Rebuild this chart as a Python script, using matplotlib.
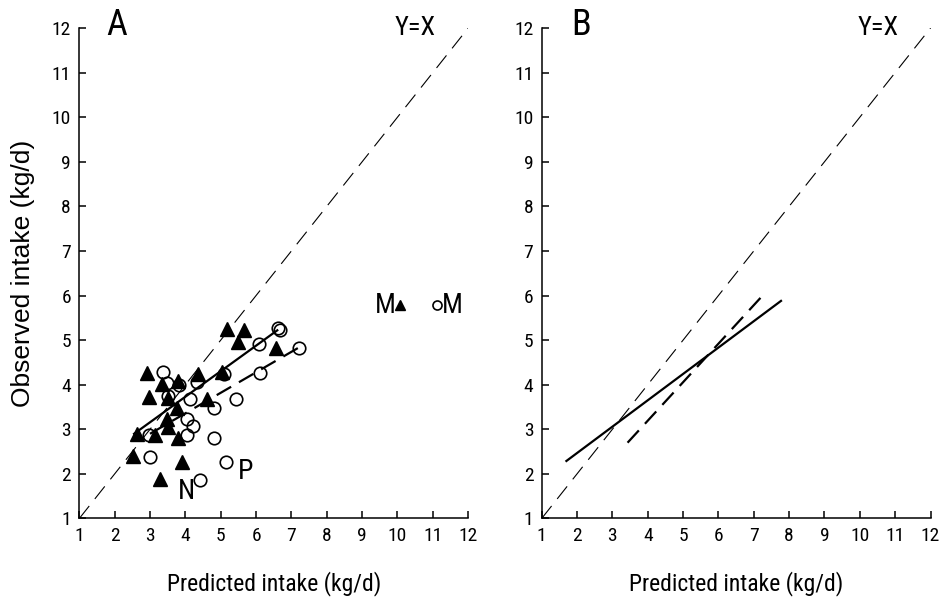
import matplotlib
matplotlib.use('Agg')
import matplotlib.pyplot as plt
from matplotlib import font_manager
import numpy as np


def pick_font(names):
    for n in names:
        try:
            font_manager.findfont(n, fallback_to_default=False)
            return n
        except ValueError:
            pass
    return None


narrow = pick_font(['Liberation Sans Narrow', 'Arial Narrow', 'Roboto Condensed'])
if narrow:
    plt.rcParams['font.family'] = [narrow, 'Liberation Sans', 'DejaVu Sans']
    tick_fs, xlab_fs, key_fs, yx_fs, pan_fs = 14, 17, 20, 19, 26
else:
    plt.rcParams['font.family'] = ['Liberation Sans', 'DejaVu Sans']
    tick_fs, xlab_fs, key_fs, yx_fs, pan_fs = 13, 16, 18, 15, 25
plt.rcParams['lines.scale_dashes'] = False

# panel A data
tri_x = [5.18, 5.65, 5.50, 6.57, 2.91, 3.33, 2.96, 3.80, 4.37, 5.03, 3.52,
         3.76, 4.61, 3.48, 3.52, 2.63, 3.14, 3.78, 2.53, 3.90, 3.29]
tri_y = [5.25, 5.22, 4.96, 4.83, 4.26, 4.01, 3.72, 4.08, 4.25, 4.28, 3.71,
         3.47, 3.69, 3.24, 3.05, 2.89, 2.87, 2.81, 2.40, 2.27, 1.88]
circ_x = [6.62, 6.68, 6.07, 7.22, 6.12, 5.08, 3.38, 3.48, 3.83, 4.33, 3.50,
          4.14, 4.80, 5.44, 4.04, 4.23, 4.04, 2.98, 4.80, 3.00, 5.16, 4.42]
circ_y = [5.27, 5.23, 4.92, 4.83, 4.26, 4.23, 4.28, 4.04, 3.99, 4.06, 3.75,
          3.67, 3.47, 3.69, 3.24, 3.07, 2.87, 2.87, 2.81, 2.37, 2.26, 1.86]

# fitted lines, panel A
a_solid_x = [2.55, 6.60]
a_solid_y = [2.90, 5.22]
a_dash_x = [3.00, 7.20]
a_dash_y = [2.90, 4.83]

# fitted lines, panel B
b_solid_x = [1.70, 7.77]
b_solid_y = [2.29, 5.88]
b_dash_x = [3.43, 7.25]
b_dash_y = [2.70, 6.00]

ticks = list(range(1, 13))

fig = plt.figure(figsize=(9.43, 6.06), dpi=100)
axA = fig.add_axes([0.0841, 0.1444, 0.4124, 0.8094])
axB = fig.add_axes([0.5744, 0.1444, 0.4124, 0.8094])


def style(ax):
    ax.set_xlim(1, 12)
    ax.set_ylim(1, 12)
    ax.set_xticks(ticks)
    ax.set_yticks(ticks)
    for s in ['top', 'right']:
        ax.spines[s].set_visible(False)
    for s in ['left', 'bottom']:
        ax.spines[s].set_linewidth(1.1)
    ax.tick_params(direction='in', length=5, width=1.1, labelsize=tick_fs, pad=6)
    ax.set_xlabel('Predicted intake (kg/d)', fontsize=xlab_fs, labelpad=19)
    # y=x reference
    ax.plot([1, 12], [1, 12], color='k', lw=0.8, dashes=(11.5, 6.5))
    ax.text(10.51, 12.0, 'Y=X', fontsize=yx_fs, ha='center', va='center')


style(axA)
style(axB)

axA.set_ylabel('Observed intake (kg/d)', fontsize=19, labelpad=12,
               family=['Liberation Sans', 'DejaVu Sans'])

axA.plot(a_solid_x, a_solid_y, color='k', lw=1.6)
axA.plot(a_dash_x, a_dash_y, color='k', lw=1.6, dashes=(12, 6.5))
axA.plot(tri_x, tri_y, ls='none', marker='^', ms=9.5, color='k')
axA.plot(circ_x, circ_y, ls='none', marker='o', ms=9, mfc='none', mec='k', mew=1.2)

# in-plot key and labels
axA.text(9.95, 5.78, 'M', fontsize=key_fs, ha='right', va='center')
axA.plot([10.08], [5.78], ls='none', marker='^', ms=7.5, color='k')
axA.plot([11.13], [5.78], ls='none', marker='o', ms=6.5, mfc='none', mec='k', mew=1.2)
axA.text(11.25, 5.78, 'M', fontsize=key_fs, ha='left', va='center')
axA.text(5.69, 2.05, 'P', fontsize=key_fs, ha='center', va='center')
axA.text(4.04, 1.60, 'N', fontsize=key_fs, ha='center', va='center')
axA.text(2.07, 12.07, 'A', fontsize=pan_fs, ha='center', va='center', clip_on=False)

axB.plot(b_solid_x, b_solid_y, color='k', lw=1.6)
axB.plot(b_dash_x, b_dash_y, color='k', lw=1.6, dashes=(12, 6.5))
axB.text(2.11, 12.07, 'B', fontsize=pan_fs, ha='center', va='center', clip_on=False)

fig.savefig('out.png', dpi=100)
